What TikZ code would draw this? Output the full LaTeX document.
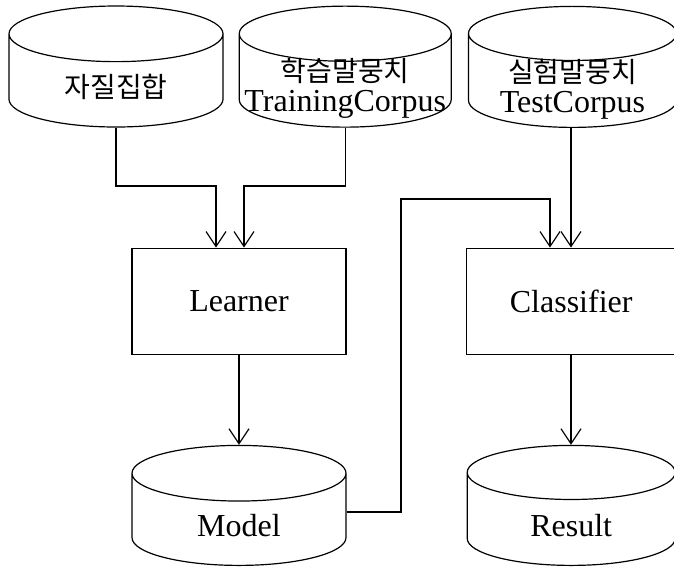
\documentclass[tikz,border=0pt]{standalone}
\usepackage{fontspec}
\setmainfont{Liberation Serif}
\newfontfamily\krfont{Noto Sans CJK KR}
\usetikzlibrary{arrows.meta,positioning,shapes.geometric}
\tikzset{
  >={Straight Barb[length=15pt,width=20pt]},
  flow/.style={->,line width=1.2pt,draw=black},
  store/.style={cylinder,shape border rotate=90,aspect=0.26,draw,line width=1.2pt,
    inner sep=0pt,text width=#1,minimum width=#1,anchor=shape center},
  storetext/.style={align=center,inner sep=0pt,font=\fontsize{32}{30}\selectfont},
  procbox/.style={draw,line width=1.2pt,minimum width=214pt,minimum height=106pt,
    inner sep=0pt,font=\fontsize{32}{40}\selectfont}
}
\newcommand{\kr}[1]{{\krfont\fontsize{28}{30}\selectfont #1}}
\begin{document}
\begin{tikzpicture}[x=1pt,y=-1pt]
  \useasboundingbox (0,0) rectangle (674,566);
  % data stores
  \node[store=214pt,minimum height=121pt] (feat) at (116,66.5) {};
  \node[store=212pt,minimum height=121pt,right=15pt of feat] (train) {};
  \node[store=208pt,minimum height=121pt,right=16pt of train] (test) {};
  \node[procbox,below=120pt of feat,xshift=123pt] (learner) {Learner};
  \node[procbox,minimum width=210pt,right=119pt of learner] (classifier) {Classifier};
  \node[store=214pt,minimum height=120pt,below=90pt of learner] (model) {};
  \node[store=208pt,minimum height=120pt,below=90pt of classifier] (result) {};
  % texts in the stores
  \node[storetext] (featlbl) at ([yshift=-20.5pt]feat.shape center) {\kr{자질집합}};
  \node[storetext] (trainlbl) at ([yshift=-22pt]train.shape center) {\kr{학습말뭉치}\\TrainingCorpus};
  \node[storetext] (testlbl) at ([yshift=-22pt]test.shape center) {\kr{실험말뭉치}\\TestCorpus};
  \node[storetext] (modellbl) at ([yshift=-20.5pt]model.shape center) {Model};
  \node[storetext] (resultlbl) at ([yshift=-20.5pt]result.shape center) {Result};
  % connectors
  \draw[flow] (feat.south) |- (216,186) -- (learner.north -| 216,0);
  \draw[flow] (train.south) |- (244,186) -- (learner.north -| 244,0);
  \draw[flow] (test.south -| 571,0) -- (classifier.north -| 571,0);
  \draw[flow] (learner) -- (model);
  \draw[flow] (classifier.south -| 571,0) -- (result.north -| 571,0);
  \draw[flow] (model.east |- 0,512) -| (401,199) -| (classifier.north -| 550,0);
\end{tikzpicture}
\end{document}
